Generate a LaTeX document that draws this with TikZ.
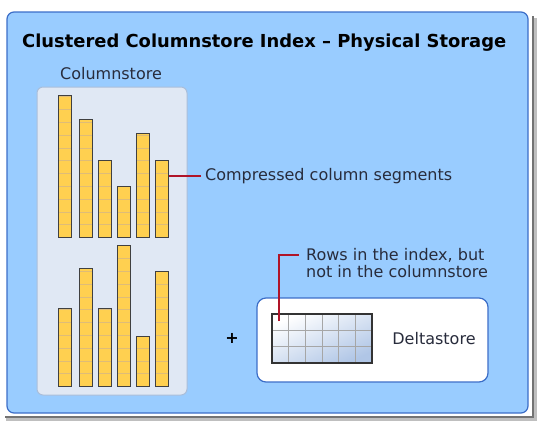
\documentclass[tikz,border=0pt]{standalone}
\usepackage{fontspec}
\usepackage{xcolor}
\setmainfont{DejaVu Sans}
\usetikzlibrary{positioning}

\definecolor{skyfill}{RGB}{153,204,255}
\definecolor{skyline}{RGB}{60,110,200}
\definecolor{panelfill}{RGB}{224,232,244}
\definecolor{panelline}{RGB}{170,190,218}
\definecolor{barfill}{RGB}{255,208,80}
\definecolor{barcell}{RGB}{222,188,120}
\definecolor{gridshade}{RGB}{176,198,230}
\definecolor{leader}{RGB}{176,20,40}
\definecolor{labeltext}{RGB}{40,44,60}

\begin{document}
\begin{tikzpicture}[x=1pt, y=-1pt,
    frame/.style={draw=skyline, fill=skyfill, line width=1.2pt, rounded corners=7pt},
    panel/.style={draw=panelline, fill=panelfill, line width=1pt, rounded corners=6pt},
    bar/.style={draw=black!75, fill=barfill, line width=1pt, inner sep=0pt,
      minimum width=13pt, anchor=south west,
      path picture={\foreach \k in {1,...,13}
        \draw[barcell, line width=0.8pt]
          ([yshift=\k*12.8pt]path picture bounding box.south west) --
          ([yshift=\k*12.8pt]path picture bounding box.south east);}},
    label/.style={text=labeltext, font=\fontsize{16}{17}\selectfont, inner sep=0pt},
    link/.style={draw=leader, line width=1.1pt}
  ]
  \useasboundingbox (0,0) rectangle (539,421);

  % shadow and frame
  \draw[black!25, line width=3pt] (535,18) -- (535,419) -- (6,419);
  \draw[black!55, line width=1.2pt] (533,16) -- (533,417) -- (5,417);
  \draw[frame] (7,12) rectangle (528,413);

  \node[anchor=base west, inner sep=0pt, font=\bfseries\fontsize{17.9}{20}\selectfont]
    (title) at (22,47) {Clustered Columnstore Index – Physical Storage};

  % columnstore
  \node[label, anchor=base] (cslabel) at (111,79) {Columnstore};
  \draw[panel] (37,87) rectangle (187,395);

  \foreach \i/\x/\t in {1/58/96, 2/79/120, 3/98/161, 4/117/187, 5/136/134, 6/155/161}
    \node[bar, minimum height={238-\t}] (t\i) at (\x,238) {};
  \foreach \i/\x/\t in {1/58/309, 2/79/269, 3/98/309, 4/117/246, 5/136/337, 6/155/272}
    \node[bar, minimum height={387-\t}] (b\i) at (\x,387) {};

  \node[label, anchor=west] (segs) at (205,176) {Compressed column segments};
  \draw[link] (segs.west) ++(-4,0) -- (segs.west -| t6.east);

  % deltastore
  \node[font=\bfseries\fontsize{16}{18}\selectfont] (plus) at (232,338) {+};
  \draw[draw=skyline, fill=white, line width=1.2pt, rounded corners=9pt]
    (257,298) rectangle (488,382);
  \node[draw=black!80, line width=1.2pt, inner sep=0pt, minimum width=100pt,
    minimum height=49pt, top color=white, bottom color=gridshade, shading angle=25,
    path picture={
      \foreach \c in {1,...,5}
        \draw[black!35, line width=0.8pt]
          ([xshift=\c*16.67pt]path picture bounding box.south west) --
          ([xshift=\c*16.67pt]path picture bounding box.north west);
      \foreach \r in {1,2}
        \draw[black!35, line width=0.8pt]
          ([yshift=\r*16.33pt]path picture bounding box.south west) --
          ([yshift=\r*16.33pt]path picture bounding box.south east);}]
    (grid) at (322,338.5) {};
  \node[label] (delta) at (434,339) {Deltastore};

  \node[label, anchor=north west, align=left] (rows) at (306,248)
    {Rows in the index, but\\not in the columnstore};
  \coordinate (rowpin) at (279,321);
  \coordinate (rowend) at (299,255);
  \draw[link] (rowpin) |- (rowend);
\end{tikzpicture}
\end{document}
